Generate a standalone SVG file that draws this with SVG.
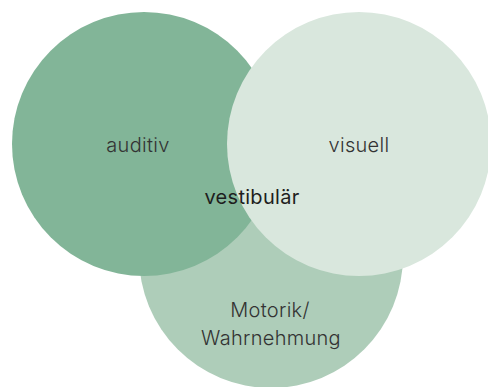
<svg xmlns="http://www.w3.org/2000/svg" width="488" height="387" viewBox="0 0 488 387">
<style>
text{font-family:Inter,"Liberation Sans",sans-serif;font-size:20px;fill:#333;font-weight:300;text-anchor:middle;letter-spacing:0.3px}
.b{font-weight:400;fill:#1e1e1e}
</style>
<rect width="488" height="387" fill="#fff"/>
<g id="motorik"><circle cx="271" cy="256" r="132" fill="#aecdb9"/></g>
<g id="auditiv"><circle cx="144" cy="144" r="132" fill="#82b598"/></g>
<g id="visuell"><circle cx="359" cy="144" r="132" fill="#d9e7dd"/></g>
<g id="labels">
<text x="138" y="152">auditiv</text>
<text x="359" y="152">visuell</text>
<text class="b" x="252" y="204">vestibulär</text>
<text x="270" y="317">Motorik/</text>
<text x="271" y="345">Wahrnehmung</text>
</g>
<g id="connectors"/>
</svg>
